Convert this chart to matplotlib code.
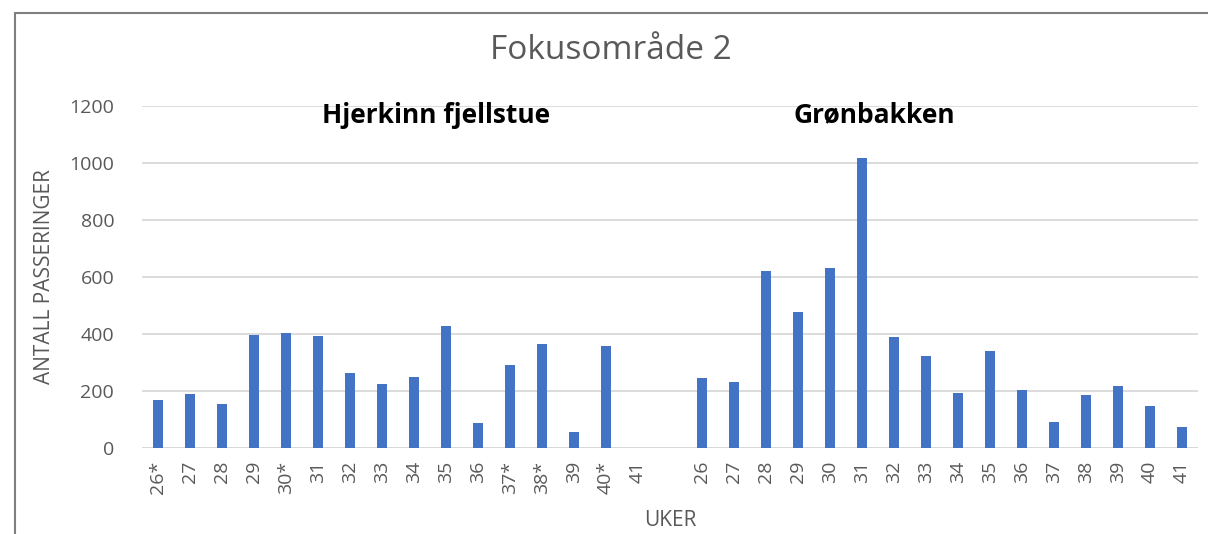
import matplotlib.pyplot as plt
import matplotlib.patches as patches
import numpy as np

hjerkinn_weeks = ["26*", "27", "28", "29", "30*", "31", "32", "33", "34", "35",
                  "36", "37*", "38*", "39", "40*", "41"]
hjerkinn_values = [170, 190, 155, 398, 402, 393, 263, 224, 249, 428,
                   87, 291, 365, 56, 358, np.nan]
gronbakken_weeks = ["26", "27", "28", "29", "30", "31", "32", "33", "34", "35",
                    "36", "37", "38", "39", "40", "41"]
gronbakken_values = [244, 231, 620, 479, 631, 1019, 388, 322, 192, 342,
                     204, 90, 185, 219, 149, 75]

labels = hjerkinn_weeks + [""] + gronbakken_weeks
values = hjerkinn_values + [np.nan] + gronbakken_values
x = np.arange(len(labels))

grey = "#595959"
fig = plt.figure(figsize=(12.08, 5.34), dpi=100)
ax = fig.add_axes([0.1175, 0.161, 0.8742, 0.6405])

ax.bar(x, values, width=0.32, color="#4472C4", zorder=3)

ax.set_xlim(-0.5, len(labels) - 0.5)
ax.set_ylim(0, 1200)
ax.set_yticks(range(0, 1201, 200))
ax.yaxis.grid(True, color="#D9D9D9", linewidth=1.3, zorder=0)
ax.set_xticks(x)
ax.set_xticklabels(labels, rotation=90, fontsize=14, color=grey, family="Open Sans")
for lbl in ax.get_yticklabels():
    lbl.set_fontsize(14)
    lbl.set_color(grey)
    lbl.set_family("Open Sans")
ax.tick_params(axis="x", length=0, pad=9)
ax.tick_params(axis="y", length=0, pad=20)
for s in ax.spines.values():
    s.set_visible(False)
ax.axhline(0, color="#D9D9D9", linewidth=1.3, zorder=2)

ax.set_ylabel("ANTALL PASSERINGER", fontsize=15, color=grey, family="Open Sans", labelpad=10)
ax.set_xlabel("UKER", fontsize=15, color=grey, family="Open Sans", labelpad=12)

fig.text(0.506, 0.905, "Fokusområde 2", ha="center", va="center",
         fontsize=24, color=grey, family="Open Sans")
ax.text(8.7, 1168, "Hjerkinn fjellstue", ha="center", va="center",
        fontsize=19, fontweight="bold", color="black", family="Open Sans")
ax.text(22.4, 1168, "Grønbakken", ha="center", va="center",
        fontsize=19, fontweight="bold", color="black", family="Open Sans")

fig.patches.append(patches.Rectangle((15 / 1208, -0.05), 1.2, 1 - 13 / 534 + 0.05,
                                     transform=fig.transFigure, fill=False,
                                     edgecolor="#7F7F7F", linewidth=1.5))

fig.savefig("out.png", dpi=100)
